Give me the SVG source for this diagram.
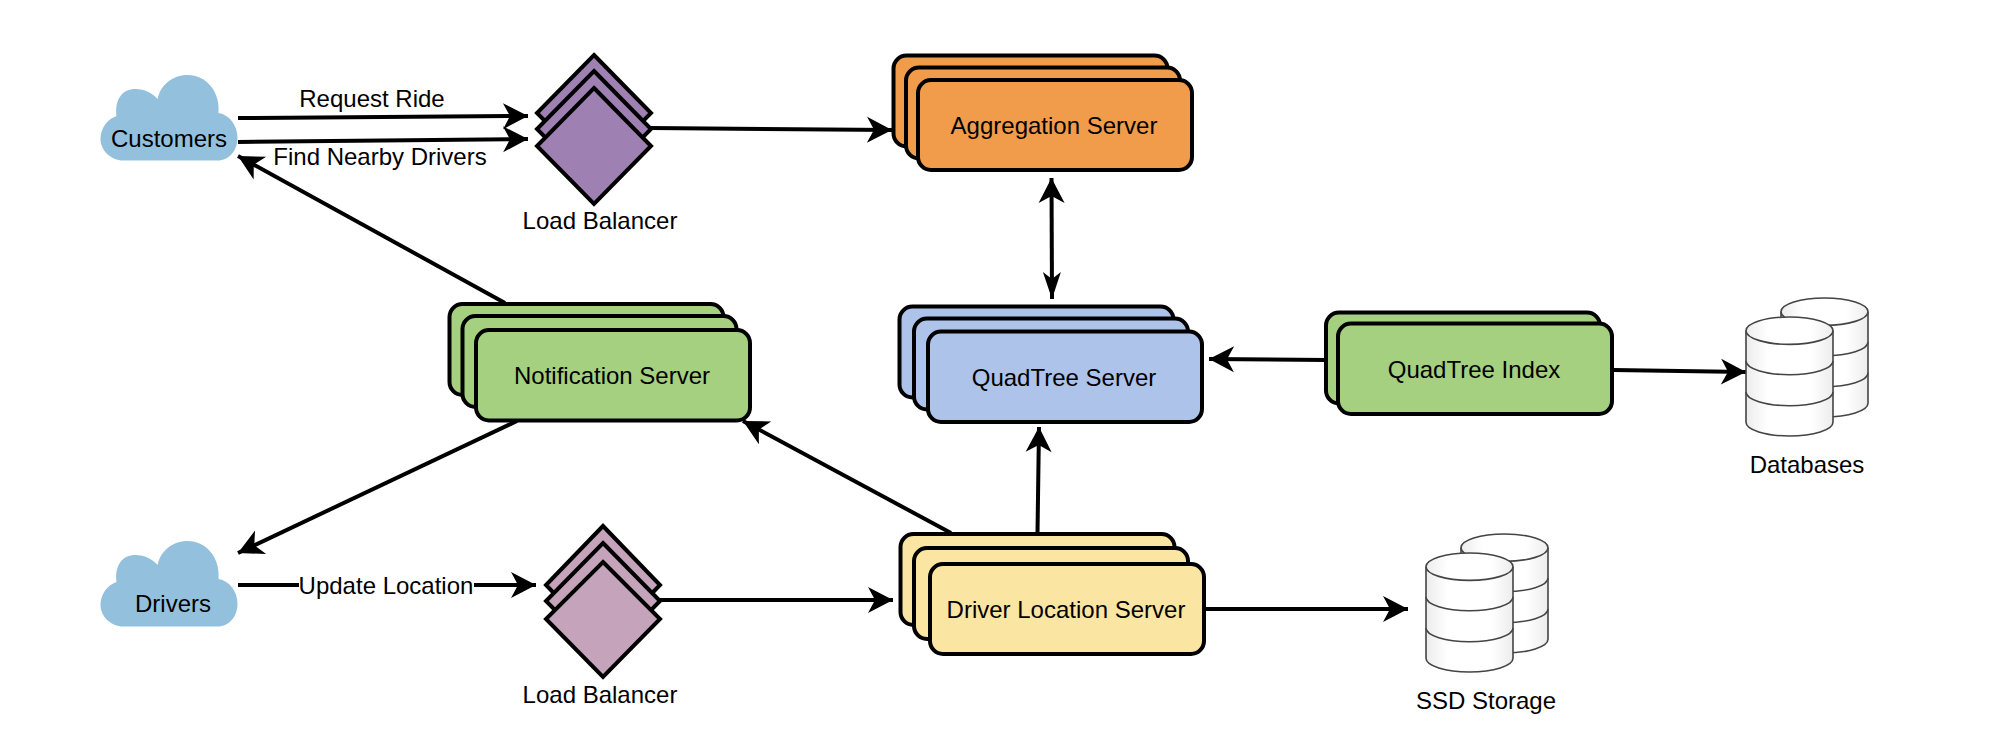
<svg xmlns="http://www.w3.org/2000/svg" width="2012" height="754" viewBox="0 0 2012 754">
<style>
text{font-family:"Liberation Sans",Arial,sans-serif;font-size:24px;fill:#000;text-anchor:middle}
.box{stroke:#000;stroke-width:4}
.dia{stroke:#000;stroke-width:4;stroke-linejoin:miter}
.c{fill:none;stroke:#000;stroke-width:4;marker-end:url(#arrow)}
.cyl{fill:url(#cg);stroke:#444;stroke-width:1.6}
.ln{fill:none;stroke:#444;stroke-width:1.6}
</style>
<defs>
<marker id="arrow" markerUnits="userSpaceOnUse" markerWidth="26" markerHeight="28" viewBox="0 0 26 28" refX="25" refY="14" orient="auto-start-reverse" overflow="visible"><path d="M0,1 L25,14 L0,27 L7,14 Z" fill="#000"/></marker>
<marker id="arrow2" markerUnits="userSpaceOnUse" markerWidth="28" markerHeight="20" viewBox="0 0 28 20" refX="27" refY="10" orient="auto" overflow="visible"><path d="M0,1 L27,10 L0,19 L7,10 Z" fill="#000"/></marker>
<linearGradient id="cg" x1="0" x2="1" y1="0" y2="0"><stop offset="0" stop-color="#ececec"/><stop offset=".25" stop-color="#fff"/><stop offset=".75" stop-color="#fff"/><stop offset="1" stop-color="#ececec"/></linearGradient>
<path id="cloud" fill="#93c1dd" d="M23,85.5C10,85.5 0,75 0,64C0,53 7,44 16,41C14,24 22,14 35,14C44,14 52,18 57,24C60,10 72,0 87,0C106,0 120,17 118,38C129,40 137,50 137,63C137,75 129,85.5 117,85.5Z"/>
<g id="cylinder">
<path class="cyl" d="M0,13.7A43.5,13.7 0 0 1 87,13.7V105.3A43.5,13.7 0 0 1 0,105.3Z"/>
<path class="ln" d="M0,13.7A43.5,13.7 0 0 0 87,13.7M0,44A43.5,13.7 0 0 0 87,44M0,75A43.5,13.7 0 0 0 87,75"/>
</g>
</defs>
<rect width="2012" height="754" fill="#fff"/>

<g id="connectors">
<path class="c" d="M238,118L528,116"/>
<path class="c" d="M238,142L528,139"/>
<path class="c" d="M651,128L892,130"/>
<path class="c" d="M505,303L238,156"/>
<path class="c" d="M517,421L238,553"/>
<path class="c" d="M238,585L536,585"/>
<path class="c" d="M660,600L893,600"/>
<path class="c" d="M951,533L743,421"/>
<path class="c" d="M1037.500,533L1039,427"/>
<path class="c" d="M1204,609L1408,609"/>
<path class="c" d="M1326,360L1209,359"/>
<path class="c" d="M1613,370L1746,372"/>
<path d="M1051.500,178L1052,299" fill="none" stroke="#000" stroke-width="4" marker-start="url(#arrow)" marker-end="url(#arrow2)"/>
</g>

<g id="customers">
<use href="#cloud" x="100.500" y="75"/>
<text x="169" y="147">Customers</text>
</g>
<g id="drivers">
<use href="#cloud" x="100.500" y="541"/>
<text x="173" y="612">Drivers</text>
</g>
<g id="label-request-ride"><text x="372" y="107">Request Ride</text></g>
<g id="label-find-nearby-drivers"><text x="380" y="165">Find Nearby Drivers</text></g>
<g id="label-update-location">
<rect x="299" y="572" width="175" height="26" fill="#fff"/>
<text x="386" y="594">Update Location</text>
</g>

<g id="load-balancer-1" fill="#9f80b2">
<path class="dia" d="M594,55L651,113L594,171L537,113Z"/>
<path class="dia" d="M594,71L651,129L594,187L537,129Z"/>
<path class="dia" d="M594,88L651,146L594,204L537,146Z"/>
<text x="600" y="229">Load Balancer</text>
</g>
<g id="load-balancer-2" fill="#c4a3bb">
<path class="dia" d="M603,526L660,585L603,644L546,585Z"/>
<path class="dia" d="M603,543L660,601L603,659L546,601Z"/>
<path class="dia" d="M603,562L660,619L603,677L546,619Z"/>
<text x="600" y="703">Load Balancer</text>
</g>

<g id="aggregation-server" fill="#f19c4a">
<rect class="box" x="893.500" y="55.500" width="274" height="91" rx="13"/>
<rect class="box" x="906" y="67.500" width="274" height="91" rx="13"/>
<rect class="box" x="918" y="80" width="274" height="90" rx="13"/>
<text x="1054" y="134">Aggregation Server</text>
</g>
<g id="quadtree-server" fill="#aec3e9">
<rect class="box" x="899.500" y="306.500" width="274" height="91" rx="13"/>
<rect class="box" x="914" y="318.500" width="274" height="91" rx="13"/>
<rect class="box" x="928" y="331.500" width="274" height="90.500" rx="13"/>
<text x="1064" y="386">QuadTree Server</text>
</g>
<g id="notification-server" fill="#a4d080">
<rect class="box" x="449.500" y="304" width="274" height="91" rx="13"/>
<rect class="box" x="462.500" y="316" width="274" height="91" rx="13"/>
<rect class="box" x="476" y="330" width="274" height="90.500" rx="13"/>
<text x="612" y="384">Notification Server</text>
</g>
<g id="quadtree-index" fill="#a4d080">
<rect class="box" x="1326" y="312.500" width="274" height="91" rx="13"/>
<rect class="box" x="1338" y="323.500" width="274" height="90.500" rx="13"/>
<text x="1474" y="378">QuadTree Index</text>
</g>
<g id="driver-location-server" fill="#fbe5a2">
<rect class="box" x="900.500" y="534" width="274" height="91" rx="13"/>
<rect class="box" x="914" y="548" width="274" height="91" rx="13"/>
<rect class="box" x="930" y="564" width="274" height="90" rx="13"/>
<text x="1066" y="618">Driver Location Server</text>
</g>

<g id="databases">
<use href="#cylinder" x="1781" y="298"/>
<use href="#cylinder" x="1746" y="317"/>
<text x="1807" y="473">Databases</text>
</g>
<g id="ssd-storage">
<use href="#cylinder" x="1461" y="534"/>
<use href="#cylinder" x="1426" y="553"/>
<text x="1486" y="709">SSD Storage</text>
</g>
</svg>
